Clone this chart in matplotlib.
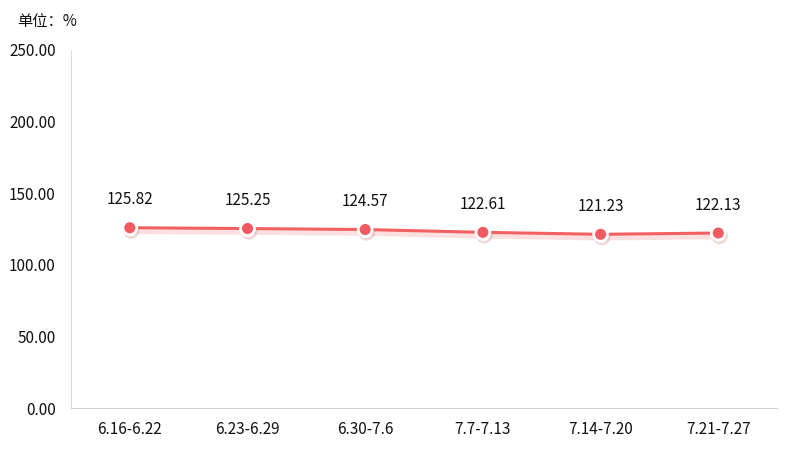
import matplotlib.pyplot as plt
import matplotlib.patheffects as pe

plt.rcParams['font.family'] = ['Noto Sans CJK SC', 'DejaVu Sans']

weeks = ['6.16-6.22', '6.23-6.29', '6.30-7.6', '7.7-7.13', '7.14-7.20', '7.21-7.27']
values = [125.82, 125.25, 124.57, 122.61, 121.23, 122.13]
yticks = [0, 50, 100, 150, 200, 250]

fig = plt.figure(figsize=(7.93, 4.54), dpi=100)
ax = fig.add_axes([0.0895, 0.1013, 0.8905, 0.789])

x = list(range(len(weeks)))
line_color = '#f26161'
shadow = [pe.SimpleLineShadow(offset=(0, -2), shadow_color='#f26161', alpha=0.2, linewidth=5),
          pe.Normal()]
ax.plot(x, values, color=line_color, lw=2.2, zorder=2, path_effects=shadow)
ax.plot(x, values, ls='none', marker='o', ms=10, mfc='#f15a60', mec='white', mew=2, zorder=3,
        path_effects=[pe.SimpleLineShadow(offset=(1, -2), shadow_color='#d08080', alpha=0.3), pe.Normal()])

for xi, v in zip(x, values):
    ax.annotate(f'{v:.2f}', (xi, v), xytext=(0, 14), textcoords='offset points',
                ha='center', va='bottom', fontsize=11, color='#111111')

ax.set_xlim(-0.5, len(weeks) - 0.5)
ax.set_ylim(0, 250)
ax.set_xticks(x)
ax.set_xticklabels(weeks)
ax.set_yticks(yticks)
ax.set_yticklabels([f'{t:.2f}' for t in yticks])
ax.tick_params(length=0, labelsize=11, colors='#111111')
ax.tick_params(axis='x', pad=9)
ax.tick_params(axis='y', pad=11)

for s in ['top', 'right']:
    ax.spines[s].set_visible(False)
ax.spines['left'].set_color('#dddddd')
ax.spines['bottom'].set_color('#d0d0d0')

fig.text(0.022, 0.953, '单位：%', fontsize=11, color='#111111', va='center')

fig.savefig('out.png', dpi=100)
